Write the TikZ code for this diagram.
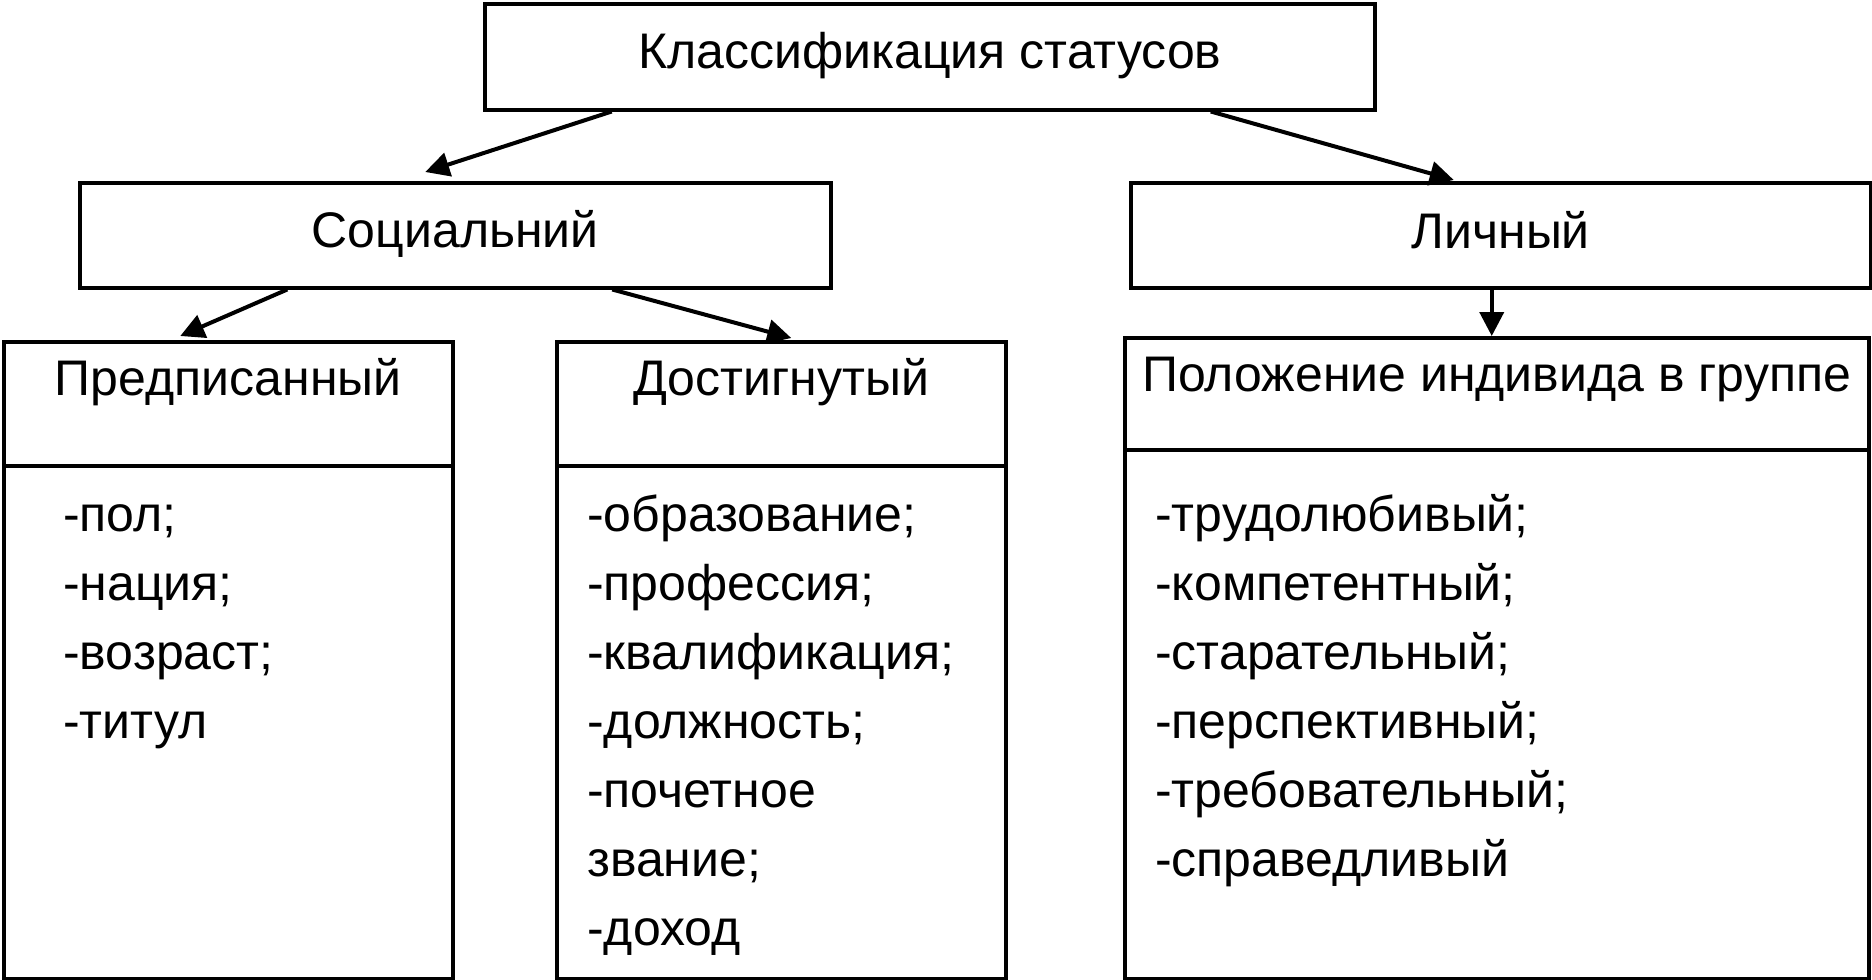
\documentclass[tikz,border=0pt]{standalone}
\usepackage{fontspec}
\setmainfont{Liberation Sans}
\usetikzlibrary{arrows.meta}

\begin{document}
\begin{tikzpicture}
  [x=1pt, y=-1pt,
   box/.style={draw, line width=3.5pt, inner sep=0pt, anchor=north west,
     font=\fontsize{50}{60}\selectfont, text height=36pt, text depth=12pt},
   item/.style={inner sep=0pt, anchor=base west, font=\fontsize{50}{60}\selectfont},
   arr/.style={line width=4pt, -{Triangle[length=24pt,width=24pt]}}]
  \useasboundingbox (0,0) rectangle (1872,980);

  % top levels
  \node[box, minimum width=890pt, minimum height=106pt] (klass) at (483,2) {Классификация статусов};
  \node[box, minimum width=751pt, minimum height=105pt] (soc) at (78,181) {Социальний};
  \node[box, minimum width=740pt, minimum height=105pt, text depth=9pt] (lich) at (1129,181) {Личный};

  % columns: header + list
  \node[box, minimum width=449pt, minimum height=124pt, text depth=52pt] (predh) at (2,340) {Предписанный};
  \node[box, minimum width=449pt, minimum height=513pt] (predb) at (2,464) {};
  \node[box, minimum width=449pt, minimum height=124pt, text depth=52pt] (dosth) at (555,340) {Достигнутый};
  \node[box, minimum width=449pt, minimum height=513pt] (dostb) at (555,464) {};
  \node[box, minimum width=744pt, minimum height=112pt, text depth=40pt] (polh) at (1123,336) {Положение индивида в группе};
  \node[box, minimum width=744pt, minimum height=529pt] (polb) at (1123,448) {};

  \foreach \t [count=\i from 0] in {-пол;, -нация;, -возраст;, -титул}
    \node[item] (pr\i) at (63,{531+69*\i}) {\t};
  \foreach \t [count=\i from 0] in {-образование;, -профессия;, -квалификация;, -должность;, -почетное, звание;, -доход}
    \node[item] (ds\i) at (587,{531+69*\i}) {\t};
  \foreach \t [count=\i from 0] in {-трудолюбивый;, -компетентный;, -старательный;, -перспективный;, -требовательный;, -справедливый}
    \node[item] (pl\i) at (1155,{531+69*\i}) {\t};

  % arrows
  \draw[arr] ([xshift=-318pt]klass.south) -- ([xshift=-30pt,yshift=9pt]soc.north);
  \draw[arr] ([xshift=281pt]klass.south) -- ([xshift=-47pt,yshift=1pt]lich.north);
  \draw[arr] ([xshift=-168pt]soc.south) -- ([xshift=-48pt,yshift=4pt]predh.north);
  \draw[arr] ([xshift=157pt]soc.south) -- ([xshift=10pt,yshift=2pt]dosth.north);
  \draw[arr] ([xshift=-9pt]lich.south) -- ([xshift=-9pt]lich.south |- polh.north);
\end{tikzpicture}
\end{document}
